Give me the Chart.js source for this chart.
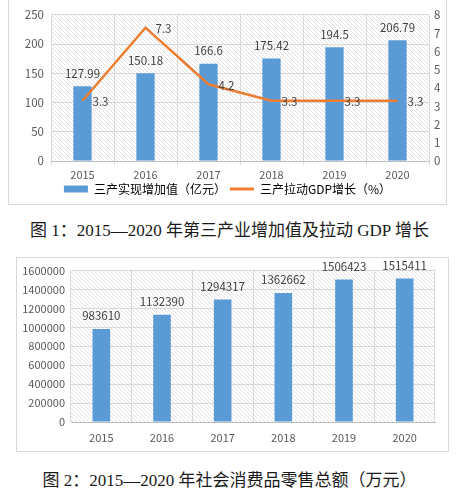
<!DOCTYPE html>
<html>
<head>
<meta charset="utf-8">
<script src="https://cdn.jsdelivr.net/npm/chart.js@4.4.1/dist/chart.umd.min.js"></script>
<style>
  html, body { margin: 0; padding: 0; background: #fff; }
  body { width: 459px; height: 500px; position: relative; overflow: hidden; }
  .frame { position: absolute; box-sizing: border-box; border: 1px solid #d9d9d9; background: #fff; }
  .frame canvas { position: absolute; left: 0; top: 0; }
  .caption {
    position: absolute; left: 0; width: 459px; text-align: center;
    font-family: "Liberation Serif", "Noto Sans CJK SC", serif;
    font-size: 17px; color: #1a1a1a; white-space: nowrap;
  }
</style>
</head>
<body>
<div class="frame" id="f1" style="left:8px; top:-1px; width:439px; height:206px;">
  <canvas id="grafico1" style="top:1px;"></canvas>
</div>
<div class="caption" style="top:216px;">图 1：2015—2020 年第三产业增加值及拉动 GDP 增长</div>

<div class="frame" id="f2" style="left:16px; top:257px; width:433px; height:195px;">
  <canvas id="grafico2"></canvas>
</div>
<div class="caption" style="top:466px;">图 2：2015—2020 年社会消费品零售总额（万元）</div>

<script>
// dados
const anos = ["2015", "2016", "2017", "2018", "2019", "2020"]
const valorAgregado = [127.99, 150.18, 166.6, 175.42, 194.5, 206.79]
const contribPIB = [3.3, 7.3, 4.2, 3.3, 3.3, 3.3]
const varejo = [983610, 1132390, 1294317, 1362662, 1506423, 1515411]

const ticksEsq1 = [0, 50, 100, 150, 200, 250]
const ticksDir1 = [0, 1, 2, 3, 4, 5, 6, 7, 8]
const ticksEsq2 = [0, 200000, 400000, 600000, 800000, 1000000, 1200000, 1400000, 1600000]

const corBarra = "#5B9BD5"
const corLinha = "#ED7D31"
const corTexto = "#595959"
const corGrade = "#d9d9d9"

Chart.defaults.font.family = '"Noto Sans CJK SC", "Noto Sans", sans-serif'
Chart.defaults.font.size = 11
Chart.defaults.color = corTexto
Chart.defaults.animation = false

// fundo hachurado da área do gráfico
function criarHachura() {
  const c = document.createElement("canvas")
  c.width = 4
  c.height = 4
  const g = c.getContext("2d")
  g.strokeStyle = "#e2e2e2"
  g.lineWidth = 1
  g.beginPath()
  g.moveTo(0, 0)
  g.lineTo(4, 4)
  g.moveTo(-1, 3)
  g.lineTo(1, 5)
  g.moveTo(3, -1)
  g.lineTo(5, 1)
  g.stroke()
  return g.createPattern(c, "repeat")
}

const pluginHachura = {
  id: "hachura",
  beforeDraw(chart) {
    const { ctx, chartArea } = chart
    ctx.save()
    ctx.fillStyle = criarHachura()
    ctx.fillRect(chartArea.left, chartArea.top, chartArea.right - chartArea.left, chartArea.bottom - chartArea.top)
    ctx.restore()
  },
}

// rótulos de valores (acima da barra ou à direita do ponto)
const pluginRotulos = {
  id: "rotulos",
  afterDatasetsDraw(chart) {
    const ctx = chart.ctx
    chart.data.datasets.forEach((ds, i) => {
      const meta = chart.getDatasetMeta(i)
      ctx.save()
      ctx.font = '11.5px "Noto Sans CJK SC", sans-serif'
      ctx.fillStyle = "#404040"
      ctx.textBaseline = "middle"
      meta.data.forEach((el, j) => {
        const txt = String(ds.data[j])
        if (ds.posRotulo === "direita") {
          ctx.textAlign = "left"
          ctx.fillText(txt, el.x + 10, el.y + 1)
        } else {
          ctx.textAlign = "center"
          ctx.fillText(txt, el.x, el.y - 13)
        }
      })
      ctx.restore()
    })
  },
}

function fixarTicks(lista) {
  return (scale) => {
    scale.ticks = lista.map((v) => ({ value: v }))
  }
}

// Gráfico 1: barras + linha com dois eixos
const c1 = document.getElementById("grafico1")
c1.width = 437
c1.height = 204
new Chart(c1, {
  type: "bar",
  data: {
    labels: anos,
    datasets: [
      {
        type: "line",
        label: "三产拉动GDP增长（%）",
        data: contribPIB,
        yAxisID: "yDir",
        borderColor: corLinha,
        backgroundColor: corLinha,
        borderWidth: 2.5,
        pointRadius: 0,
        tension: 0,
        posRotulo: "direita",
        estiloLegenda: "line",
        order: 0,
      },
      {
        label: "三产实现增加值（亿元）",
        data: valorAgregado,
        yAxisID: "y",
        backgroundColor: corBarra,
        barPercentage: 0.58,
        categoryPercentage: 0.5,
        estiloLegenda: "rect",
        order: 1,
      },
    ],
  },
  options: {
    responsive: false,
    devicePixelRatio: 1,
    layout: { padding: { top: 12, left: 0, right: 0, bottom: 0 } },
    plugins: {
      legend: {
        position: "bottom",
        reverse: true,
        labels: {
          usePointStyle: true,
          pointStyleWidth: 24,
          boxHeight: 7,
          padding: 4,
          font: { size: 12 },
          color: corTexto,
          generateLabels(chart) {
            return chart.data.datasets.map((ds, i) => ({
              text: ds.label,
              fillStyle: ds.backgroundColor,
              strokeStyle: ds.estiloLegenda === "line" ? ds.borderColor : ds.backgroundColor,
              lineWidth: ds.estiloLegenda === "line" ? 3 : 0,
              pointStyle: ds.estiloLegenda,
              datasetIndex: i,
              hidden: false,
            }))
          },
        },
      },
      tooltip: { enabled: false },
    },
    scales: {
      x: {
        grid: { color: corGrade, offset: true, tickLength: 4, tickColor: corGrade },
        border: { color: "#bfbfbf" },
        ticks: { padding: 3, color: corTexto },
        afterFit(s) { s.height = 18 },
      },
      y: {
        position: "left",
        min: 0,
        max: 250,
        afterBuildTicks: fixarTicks(ticksEsq1),
        grid: { color: corGrade, drawTicks: false },
        border: { display: false },
        ticks: { padding: 7, color: corTexto, font: { size: 11.5 } },
        afterFit(s) { s.width = 42 },
      },
      yDir: {
        position: "right",
        min: 0,
        max: 8,
        afterBuildTicks: fixarTicks(ticksDir1),
        grid: { drawOnChartArea: false, drawTicks: false },
        border: { display: false },
        ticks: { padding: 5, color: corTexto, font: { size: 11.5 } },
        afterFit(s) { s.width = 17 },
      },
    },
  },
  plugins: [pluginHachura, pluginRotulos],
})

// Gráfico 2: vendas no varejo
const c2 = document.getElementById("grafico2")
c2.width = 431
c2.height = 193
new Chart(c2, {
  type: "bar",
  data: {
    labels: anos,
    datasets: [
      {
        label: "社会消费品零售总额（万元）",
        data: varejo,
        backgroundColor: corBarra,
        barPercentage: 0.58,
        categoryPercentage: 0.5,
      },
    ],
  },
  options: {
    responsive: false,
    devicePixelRatio: 1,
    layout: { padding: { top: 12, left: 0, right: 13, bottom: 0 } },
    plugins: {
      legend: { display: false },
      tooltip: { enabled: false },
    },
    scales: {
      x: {
        grid: { color: corGrade, offset: true, drawTicks: false },
        border: { color: "#bfbfbf" },
        ticks: { padding: 9, color: corTexto },
        afterFit(s) { s.height = 29 },
      },
      y: {
        min: 0,
        max: 1600000,
        afterBuildTicks: fixarTicks(ticksEsq2),
        grid: { color: corGrade, drawTicks: false },
        border: { display: false },
        ticks: { padding: 6, color: corTexto, callback: (v) => String(v) },
        afterFit(s) { s.width = 54 },
      },
    },
  },
  plugins: [pluginHachura, pluginRotulos],
})
</script>
</body>
</html>
